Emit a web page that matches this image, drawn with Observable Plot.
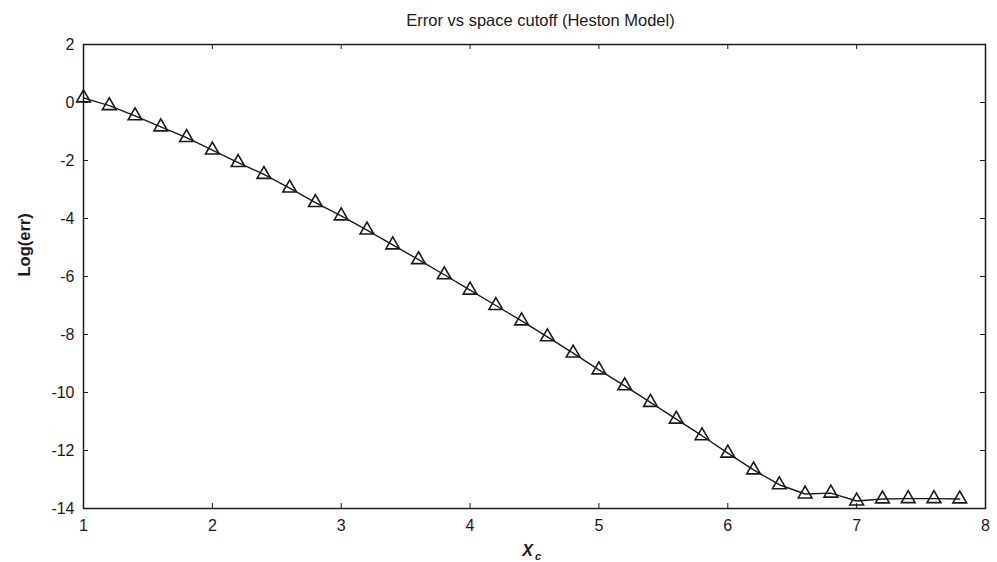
<!DOCTYPE html>
<html>
<head>
<meta charset="utf-8">
<script src="https://cdn.jsdelivr.net/npm/d3@7"></script>
<script src="https://cdn.jsdelivr.net/npm/@observablehq/plot@0.6"></script>
<style>
  html, body { margin: 0; padding: 0; background: #fff; }
  #chart svg { display: block; }
</style>
</head>
<body>
<div id="chart"></div>
<script>
const titleText = "Error vs space cutoff (Heston Model)";
const yLabel = "Log(err)";
const xLabelMain = "X";
const xLabelSub = "c";

const xc = [1.0, 1.2, 1.4, 1.6, 1.8, 2.0, 2.2, 2.4, 2.6, 2.8,
            3.0, 3.2, 3.4, 3.6, 3.8, 4.0, 4.2, 4.4, 4.6, 4.8,
            5.0, 5.2, 5.4, 5.6, 5.8, 6.0, 6.2, 6.4, 6.6, 6.8,
            7.0, 7.2, 7.4, 7.6, 7.8];
const logErr = [0.16, -0.11, -0.46, -0.84, -1.21, -1.64, -2.07, -2.48, -2.95, -3.45,
                -3.91, -4.40, -4.91, -5.42, -5.94, -6.47, -7.00, -7.53, -8.08, -8.64,
                -9.22, -9.77, -10.34, -10.92, -11.49, -12.09, -12.67, -13.18, -13.50, -13.47,
                -13.74, -13.67, -13.66, -13.66, -13.67];
const xTicks = [1, 2, 3, 4, 5, 6, 7, 8];
const yTicks = [-14, -12, -10, -8, -6, -4, -2, 0, 2];

const data = xc.map((x, i) => ({x, y: logErr[i]}));

const W = 997, H = 562;
const mL = 83, mR = 12, mT = 44, mB = 54;
const innerW = W - mL - mR, innerH = H - mT - mB;
const ink = "#1a1a1a";
const font = "'Liberation Sans', Arial, Helvetica, sans-serif";
const tickLen = 5;
const fmt = d => String(d);

const chart = Plot.plot({
  width: W,
  height: H,
  marginLeft: mL,
  marginRight: mR,
  marginTop: mT,
  marginBottom: mB,
  style: {fontFamily: font, fontSize: "16px", color: ink, background: "#fff", overflow: "visible"},
  x: {domain: [1, 8], label: null},
  y: {domain: [-14, 2], label: null},
  marks: [
    // inward ticks on all four sides
    Plot.tickX(xTicks, {x: d => d, insetTop: innerH - tickLen, stroke: ink, strokeWidth: 1}),
    Plot.tickX(xTicks, {x: d => d, insetBottom: innerH - tickLen, stroke: ink, strokeWidth: 1}),
    Plot.tickY(yTicks, {y: d => d, insetRight: innerW - tickLen, stroke: ink, strokeWidth: 1}),
    Plot.tickY(yTicks, {y: d => d, insetLeft: innerW - tickLen, stroke: ink, strokeWidth: 1}),
    Plot.axisX(xTicks, {tickSize: 0, tickPadding: 11, fontSize: 16, fill: ink, label: null, tickFormat: fmt}),
    Plot.axisY(yTicks, {tickSize: 0, tickPadding: 9, fontSize: 16, fill: ink, label: null, tickFormat: fmt}),
    Plot.frame({stroke: ink, strokeWidth: 1.5}),
    Plot.line(data, {x: "x", y: "y", stroke: ink, strokeWidth: 1.4}),
    Plot.dot(data, {x: "x", y: "y", symbol: "triangle", r: 5.1, stroke: ink, fill: "none", strokeWidth: 1.6}),
    // title
    Plot.text([titleText], {text: d => d, frameAnchor: "top", lineAnchor: "bottom", dx: 6, dy: -19, fontSize: 16.5, fill: ink}),
    // y label
    Plot.text([yLabel], {text: d => d, frameAnchor: "left", rotate: -90, dx: -59, fontSize: 16.5, fontWeight: "bold", fill: ink}),
    // x label X with subscript c
    Plot.text([xLabelMain], {text: d => d, frameAnchor: "bottom", lineAnchor: "bottom", dx: -7, dy: 47, fontSize: 16, fontWeight: "bold", fontStyle: "italic", fill: ink}),
    Plot.text([xLabelSub], {text: d => d, frameAnchor: "bottom", lineAnchor: "bottom", dx: 3.5, dy: 51, fontSize: 11, fontWeight: "bold", fontStyle: "italic", fill: ink})
  ]
});

document.getElementById("chart").appendChild(chart);
</script>
</body>
</html>
